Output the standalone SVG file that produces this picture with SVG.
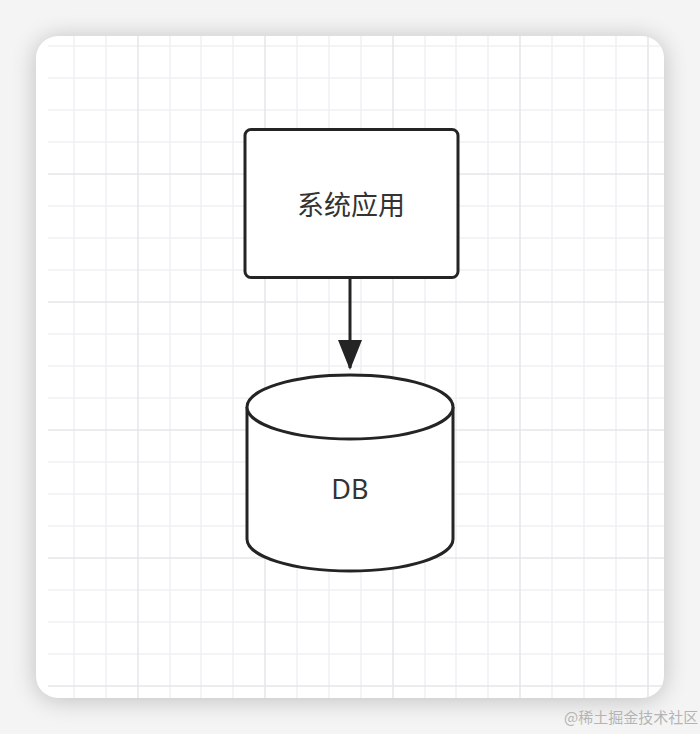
<svg xmlns="http://www.w3.org/2000/svg" width="700" height="734" viewBox="0 0 700 734">
<defs>
<style>
.minor{stroke:#f1f1f4;stroke-width:1.5}
.major{stroke:#e6e6ea;stroke-width:1.5}
.shape{fill:#fff;stroke:#242424;stroke-width:3}
.lbl{font-family:"Noto Sans","Noto Sans CJK SC",sans-serif;font-size:27px;fill:#333;text-anchor:middle}
.wm{font-family:"Noto Sans CJK SC",sans-serif;font-size:15px;fill:#b4b4b4}
</style>
<filter id="sh" x="-20%" y="-20%" width="140%" height="140%">
<feGaussianBlur stdDeviation="12"/>
</filter>
<clipPath id="card"><rect x="36" y="36" width="628" height="662" rx="22"/></clipPath>
<marker id="ah" viewBox="0 0 30 24" refX="28" refY="12" markerWidth="30" markerHeight="24" markerUnits="userSpaceOnUse" orient="auto">
<path d="M0 0 L30 12 L0 24 Z" fill="#242424"/>
</marker>
</defs>
<rect width="700" height="734" fill="#f4f4f4"/>
<rect x="36" y="38" width="628" height="662" rx="22" fill="#000" opacity="0.22" filter="url(#sh)"/>
<rect x="36" y="36" width="628" height="662" rx="22" fill="#fff"/>
<g id="grid" clip-path="url(#card)">
<g class="minor">
<line x1="74" y1="36" x2="74" y2="698"/><line x1="106" y1="36" x2="106" y2="698"/>
<line x1="170" y1="36" x2="170" y2="698"/><line x1="201" y1="36" x2="201" y2="698"/><line x1="233" y1="36" x2="233" y2="698"/>
<line x1="297" y1="36" x2="297" y2="698"/><line x1="329" y1="36" x2="329" y2="698"/><line x1="361" y1="36" x2="361" y2="698"/>
<line x1="425" y1="36" x2="425" y2="698"/><line x1="456" y1="36" x2="456" y2="698"/><line x1="488" y1="36" x2="488" y2="698"/>
<line x1="552" y1="36" x2="552" y2="698"/><line x1="584" y1="36" x2="584" y2="698"/><line x1="616" y1="36" x2="616" y2="698"/>
<line x1="48" y1="46" x2="664" y2="46"/><line x1="48" y1="78" x2="664" y2="78"/><line x1="48" y1="110" x2="664" y2="110"/><line x1="48" y1="142" x2="664" y2="142"/>
<line x1="48" y1="206" x2="664" y2="206"/><line x1="48" y1="238" x2="664" y2="238"/><line x1="48" y1="270" x2="664" y2="270"/>
<line x1="48" y1="334" x2="664" y2="334"/><line x1="48" y1="366" x2="664" y2="366"/><line x1="48" y1="398" x2="664" y2="398"/>
<line x1="48" y1="462" x2="664" y2="462"/><line x1="48" y1="494" x2="664" y2="494"/><line x1="48" y1="526" x2="664" y2="526"/>
<line x1="48" y1="590" x2="664" y2="590"/><line x1="48" y1="622" x2="664" y2="622"/><line x1="48" y1="654" x2="664" y2="654"/>
</g>
<g class="major">
<line x1="138" y1="36" x2="138" y2="698"/><line x1="265" y1="36" x2="265" y2="698"/><line x1="393" y1="36" x2="393" y2="698"/>
<line x1="520" y1="36" x2="520" y2="698"/><line x1="648" y1="36" x2="648" y2="698"/>
<line x1="48" y1="174" x2="664" y2="174"/><line x1="48" y1="302" x2="664" y2="302"/><line x1="48" y1="430" x2="664" y2="430"/>
<line x1="48" y1="558" x2="664" y2="558"/><line x1="48" y1="686" x2="664" y2="686"/>
</g>
</g>
<g id="connectors">
<line x1="350" y1="279" x2="350" y2="368" stroke="#242424" stroke-width="3" marker-end="url(#ah)"/>
</g>
<g id="app">
<rect class="shape" x="245" y="129.5" width="213" height="148" rx="6"/>
<text class="lbl" x="351" y="215">系统应用</text>
</g>
<g id="db">
<path class="shape" d="M247 407 L247 539 A103 32 0 0 0 453 539 L453 407"/>
<ellipse class="shape" cx="350" cy="407" rx="103" ry="32"/>
<text class="lbl" x="350" y="499" font-size="28">DB</text>
</g>
<text class="wm" x="564" y="723">@稀土掘金技术社区</text>
</svg>
